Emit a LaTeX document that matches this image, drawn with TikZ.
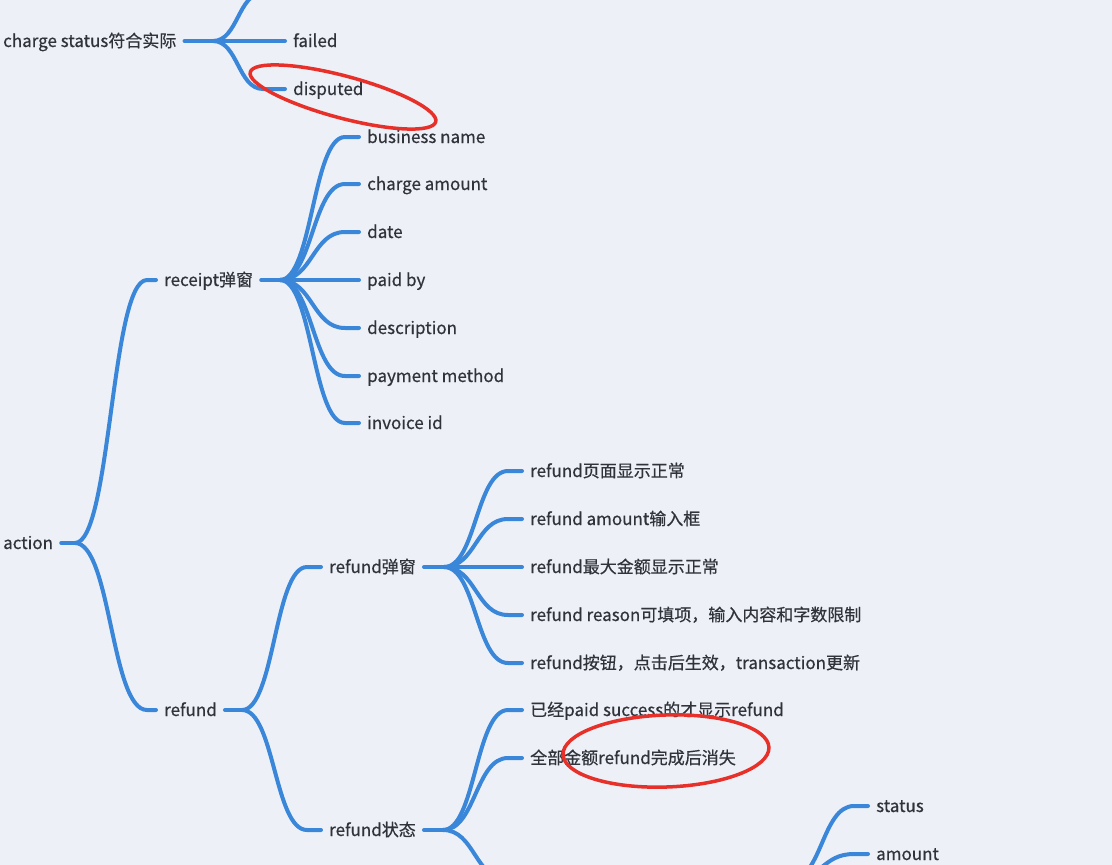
\documentclass[tikz,border=0pt]{standalone}
\usepackage{fontspec}
\setmainfont{Noto Sans CJK SC}
\newfontfamily\mapfont{Noto Sans CJK SC}[FakeBold=0.5]
\usepackage{xcolor}
\usepackage{tikz}
\usetikzlibrary{calc}

\definecolor{bgpaper}{HTML}{EDF1F7}
\definecolor{branch}{HTML}{3A86D9}
\definecolor{ink}{HTML}{30343A}
\definecolor{marker}{HTML}{E8302A}

\tikzset{
  topic/.style={anchor=west, inner sep=0pt, text height=12pt, text depth=0pt,
    text=ink, font=\mapfont\fontsize{17}{20}\selectfont},
  link/.style={draw=branch, line width=4pt, line cap=round},
  ring/.style={draw=marker, line width=3.5pt},
}

% stub from a topic to its fork point
\newcommand{\stem}[2]{\draw[link] ([xshift=8pt]#1.east) -- (#2);}
% curved twig from a fork point to a child topic
\newcommand{\twig}[3][22pt]{%
  \draw[link] let \p1=(#2), \p2=([xshift=-#1]#3.west) in
    (\p1) .. controls ({(\x1+\x2)/2},\y1) and ({(\x1+\x2)/2},\y2) .. (\p2)
    -- ([xshift=-8pt]#3.west);}

\begin{document}
\begin{tikzpicture}[x=1pt,y=1pt]
        \fill[bgpaper] (0,0) rectangle (1112,-865);
        \useasboundingbox (0,0) rectangle (1112,-865);
        \clip (0,0) rectangle (1112,-865);

        % charge status
        \node[topic] (chargestatus) at (3,-41) {charge status符合实际};
        \node[topic] (success) at (293,7) {success};
        \node[topic] (failed) at (293,-41) {failed};
        \node[topic] (disputed) at (293,-89) {disputed};
        \coordinate (csfork) at (213,-41);
        \stem{chargestatus}{csfork}
        \twig[30pt]{csfork}{success}
        \twig[30pt]{csfork}{failed}
        \twig[30pt]{csfork}{disputed}

        % action
        \node[topic] (action) at (3,-543) {action};
        \node[topic] (receipt) at (164,-280) {receipt弹窗};
        \node[topic] (refund) at (164,-710) {refund};
        \coordinate (actfork) at (75,-543);
        \stem{action}{actfork}
        \twig[17pt]{actfork}{receipt}
        \twig[17pt]{actfork}{refund}

        % receipt
        \node[topic] (bizname) at (367,-137) {business name};
        \node[topic] (chargeamt) at (367,-184) {charge amount};
        \node[topic] (date) at (367,-232) {date};
        \node[topic] (paidby) at (367,-280) {paid by};
        \node[topic] (desc) at (367,-328) {description};
        \node[topic] (paymethod) at (367,-376) {payment method};
        \node[topic] (invoice) at (367,-423) {invoice id};
        \coordinate (rcpfork) at (280,-280);
        \stem{receipt}{rcpfork}
        \foreach \kid in {bizname,chargeamt,date,paidby,desc,paymethod,invoice}
          {\twig{rcpfork}{\kid}}

        % refund
        \node[topic] (refundpop) at (329,-567) {refund弹窗};
        \node[topic] (refundstate) at (329,-830) {refund状态};
        \coordinate (rfdfork) at (242,-710);
        \stem{refund}{rfdfork}
        \twig{rfdfork}{refundpop}
        \twig{rfdfork}{refundstate}

        % refund popup
        \node[topic] (pop1) at (530,-471) {refund页面显示正常};
        \node[topic] (pop2) at (530,-519) {refund amount输入框};
        \node[topic] (pop3) at (530,-567) {refund最大金额显示正常};
        \node[topic] (pop4) at (530,-615) {refund reason可填项，输入内容和字数限制};
        \node[topic] (pop5) at (530,-663) {refund按钮，点击后生效，transaction更新};
        \coordinate (popfork) at (444,-567);
        \stem{refundpop}{popfork}
        \foreach \kid in {pop1,pop2,pop3,pop4,pop5}
          {\twig{popfork}{\kid}}

        % refund state
        \node[topic] (state1) at (530,-710) {已经paid success的才显示refund};
        \node[topic] (state2) at (530,-758) {全部金额refund完成后消失};
        \coordinate (statefork) at (443,-830);
        \coordinate (state3) at (508,-880); % below the page
        \stem{refundstate}{statefork}
        \twig{statefork}{state1}
        \twig{statefork}{state2}
        \draw[link] (statefork) .. controls (475,-830) and (475,-880) .. (state3);

        % lower right
        \node[topic] (status) at (876,-806) {status};
        \node[topic] (amount) at (876,-854) {amount};
        \coordinate (histfork) at (790,-880);
        \twig{histfork}{status}
        \twig{histfork}{amount}

        % red marks
        \draw[ring, rotate around={-15:(343,-97)}] (343,-97) ellipse (96 and 21);
        \draw[ring, rotate around={2:(666,-751)}] (666,-751) ellipse (103 and 36);
\end{tikzpicture}
\end{document}
